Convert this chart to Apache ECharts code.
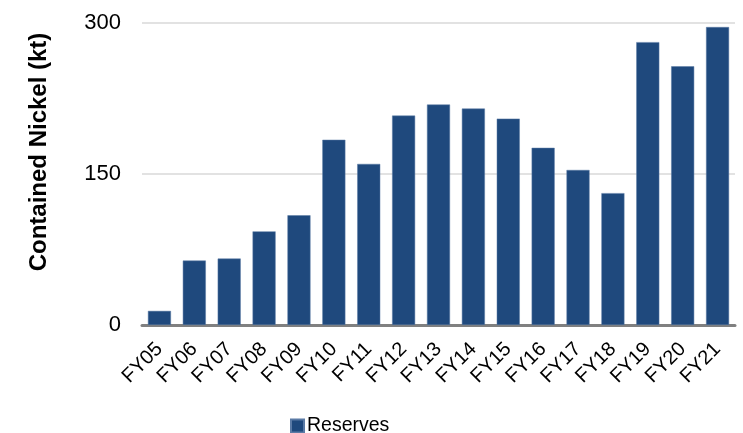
<!DOCTYPE html>
<html><head><meta charset="utf-8">
<script src="https://cdn.jsdelivr.net/npm/echarts@6/dist/echarts.min.js"></script>
<style>html,body{margin:0;padding:0;background:#fff}#c{width:743px;height:433px}</style>
</head><body><div id="c"></div>
<script>
const categories = ['FY05','FY06','FY07','FY08','FY09','FY10','FY11','FY12','FY13','FY14','FY15','FY16','FY17','FY18','FY19','FY20','FY21'];
const reserves = [14,64,66,93,109,184,160,208,219,215,205,176,154,131,281,257,296];
const yTicks = [0,150,300];
const chart = echarts.init(document.getElementById('c'));
chart.setOption({
  animation:false,
  textStyle:{fontFamily:'Liberation Sans, Arial, sans-serif'},
  grid:{left:142,right:8,top:23,bottom:108},
  legend:{top:416,left:290,padding:0,itemWidth:13,itemHeight:13,itemGap:6,icon:'rect',
    textStyle:{fontSize:19.5,color:'#000',fontFamily:'Liberation Sans, Arial, sans-serif',padding:[0,0,0,-2]},data:['Reserves']},
  graphic:[{type:'text',rotation:Math.PI/2,x:39,y:152,
    style:{text:'Contained Nickel (kt)',font:'bold 24px "Liberation Sans", Arial, sans-serif',fill:'#000',align:'center',verticalAlign:'middle'}}],
  xAxis:{type:'category',data:categories,
    axisLine:{lineStyle:{color:'#808080',width:3}},axisTick:{show:false},
    axisLabel:{rotate:45,fontSize:20,color:'#000',margin:21,interval:0}},
  yAxis:{type:'value',min:yTicks[0],max:yTicks[2],interval:150,
    axisLine:{show:false},axisTick:{show:false},
    axisLabel:{fontSize:22,color:'#000',margin:21},
    splitLine:{lineStyle:{color:'#d9d9d9',width:1.5}}},
  series:[{name:'Reserves',type:'bar',data:reserves,barCategoryGap:'34%',
    itemStyle:{color:'#1F497D',borderColor:'#5a7aa5',borderWidth:0.5}}]
});
</script></body></html>
